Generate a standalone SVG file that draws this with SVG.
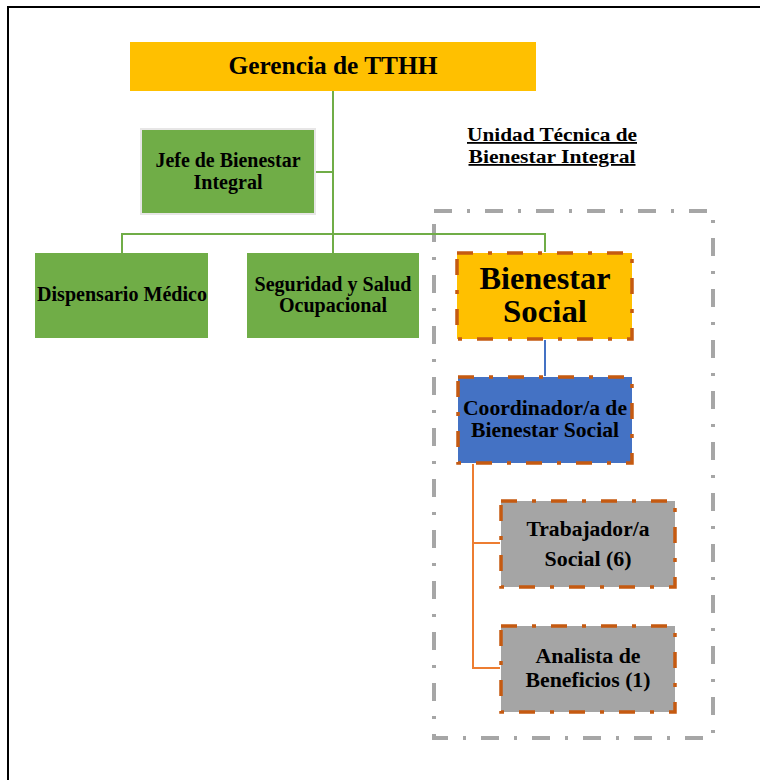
<svg xmlns="http://www.w3.org/2000/svg" width="760" height="780" viewBox="0 0 760 780">
  <style>
    .t { font-family: "Liberation Serif", "Times New Roman", serif; font-weight: bold; fill: #000; text-anchor: middle; }
    .green { fill: #70AD47; }
    .ds { stroke: #C55A11; stroke-width: 3.5; stroke-dasharray: 16 15 4 15; }
    .lg { stroke: #70AD47; stroke-width: 2; fill: none; }
  </style>
  <rect width="760" height="780" fill="#fff"/>
  <!-- page frame -->
  <rect x="8" y="7" width="800" height="800" fill="none" stroke="#000" stroke-width="2"/>

  <!-- section title -->
  <g id="title">
    <text class="t" x="552" y="141" font-size="18" text-decoration="underline" textLength="170" lengthAdjust="spacingAndGlyphs">Unidad Técnica de</text>
    <text class="t" x="552" y="163" font-size="18" text-decoration="underline" textLength="167" lengthAdjust="spacingAndGlyphs">Bienestar Integral</text>
  </g>

  <!-- unit boundary -->
  <rect id="unit" x="434" y="211" width="279" height="527" fill="none" stroke="#A6A6A6" stroke-width="4" stroke-dasharray="18 15 3 15"/>

  <g id="connectors">
    <path class="lg" d="M333 91 V234 M315 172 H333 M122 253 V234 H545 V252 M333 234 V253"/>
    <path d="M545 340 V376" stroke="#4472C4" stroke-width="2" fill="none"/>
    <path d="M473 464 V668 H500 M473 543 H500" stroke="#ED7D31" stroke-width="2" fill="none"/>
  </g>

  <g id="gerencia">
    <rect x="130" y="42" width="406" height="49" fill="#FFC000"/>
    <text class="t" x="333" y="74" font-size="25" textLength="209" lengthAdjust="spacingAndGlyphs">Gerencia de TTHH</text>
  </g>

  <g id="jefe">
    <rect x="141" y="129" width="174" height="85" class="green" stroke="#E7E6E6" stroke-width="2"/>
    <text class="t" x="228" y="167" font-size="20" textLength="145" lengthAdjust="spacingAndGlyphs">Jefe de Bienestar</text>
    <text class="t" x="228" y="189" font-size="20" textLength="69" lengthAdjust="spacingAndGlyphs">Integral</text>
  </g>

  <g id="dispensario">
    <rect x="35" y="253" width="173" height="85" class="green"/>
    <text class="t" x="122" y="301" font-size="20" textLength="170" lengthAdjust="spacingAndGlyphs">Dispensario Médico</text>
  </g>

  <g id="seguridad">
    <rect x="247" y="253" width="172" height="85" class="green"/>
    <text class="t" x="333" y="291" font-size="20" textLength="157" lengthAdjust="spacingAndGlyphs">Seguridad y Salud</text>
    <text class="t" x="333" y="312" font-size="20" textLength="108" lengthAdjust="spacingAndGlyphs">Ocupacional</text>
  </g>

  <g id="bienestar">
    <rect x="457" y="253" width="175" height="86" fill="#FFC000" class="ds"/>
    <text class="t" x="545" y="289" font-size="32" textLength="131" lengthAdjust="spacingAndGlyphs">Bienestar</text>
    <text class="t" x="545" y="322" font-size="32" textLength="84" lengthAdjust="spacingAndGlyphs">Social</text>
  </g>

  <g id="coordinador">
    <rect x="458" y="377" width="174" height="86" fill="#4472C4" class="ds"/>
    <text class="t" x="545" y="415" font-size="20" textLength="164" lengthAdjust="spacingAndGlyphs">Coordinador/a de</text>
    <text class="t" x="545" y="437" font-size="20" textLength="148" lengthAdjust="spacingAndGlyphs">Bienestar Social</text>
  </g>

  <g id="trabajador">
    <rect x="501" y="501" width="174" height="86" fill="#A5A5A5" class="ds"/>
    <text class="t" x="588" y="536" font-size="20" textLength="123" lengthAdjust="spacingAndGlyphs">Trabajador/a</text>
    <text class="t" x="588" y="566" font-size="20" textLength="87" lengthAdjust="spacingAndGlyphs">Social (6)</text>
  </g>

  <g id="analista">
    <rect x="501" y="626" width="174" height="86" fill="#A5A5A5" class="ds"/>
    <text class="t" x="588" y="663" font-size="20" textLength="105" lengthAdjust="spacingAndGlyphs">Analista de</text>
    <text class="t" x="588" y="687" font-size="20" textLength="125" lengthAdjust="spacingAndGlyphs">Beneficios (1)</text>
  </g>
</svg>
